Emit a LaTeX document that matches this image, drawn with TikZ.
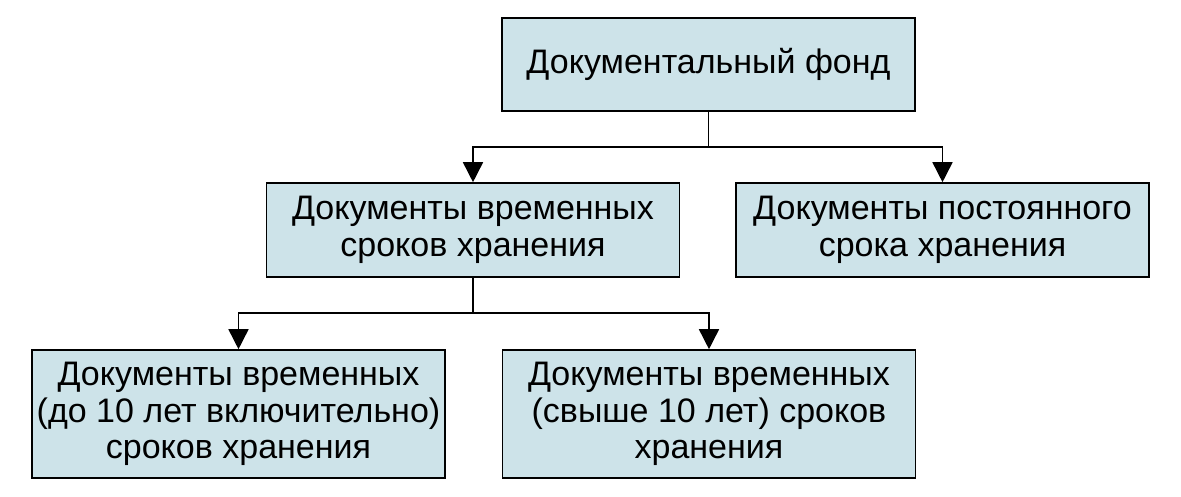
\documentclass[tikz,border=0pt]{standalone}
\usepackage{fontspec}
\setmainfont{Liberation Sans}
\usetikzlibrary{arrows.meta}
\definecolor{boxfill}{RGB}{205,227,233}
\begin{document}
\begin{tikzpicture}[x=1pt,y=-1pt,
  box/.style={draw=black,line width=1.6pt,fill=boxfill,minimum width=413pt,
    align=center,inner sep=0pt,
    font=\fontsize{34}{36.7}\selectfont},
  conn/.style={line width=1.6pt},
  arr/.style={conn,-{Triangle[width=20pt,length=20pt]}}]
\useasboundingbox (0,0) rectangle (1181,496);
\node[box,minimum height=93pt] (top) at (708.5,64.5) {Документальный фонд};
\node[box,minimum height=94pt] (midL) at (473,230) {Документы временных\\сроков хранения};
\node[box,minimum height=94pt] (midR) at (942.5,230) {Документы постоянного\\срока хранения};
\node[box,minimum height=128pt] (botL) at (238.5,414) {Документы временных\\(до 10 лет включительно)\\сроков хранения};
\node[box,minimum height=128pt] (botR) at (709,414) {Документы временных\\(свыше 10 лет) сроков\\хранения};
\coordinate (j1) at (708.5,147);
\coordinate (j2) at (473,313);
\draw[conn] (top.south) -- (j1);
\draw[arr] (j1) -| (midL.north);
\draw[arr] (j1) -| (midR.north);
\draw[conn] (midL.south) -- (j2);
\draw[arr] (j2) -| (botL.north);
\draw[arr] (j2) -| (botR.north);
\end{tikzpicture}
\end{document}
